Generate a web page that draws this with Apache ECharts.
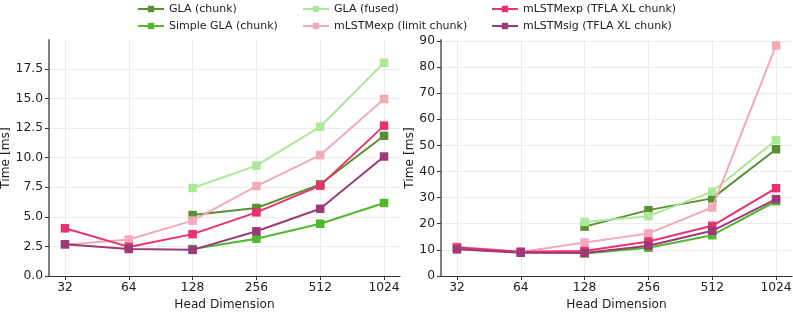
<!DOCTYPE html>
<html>
<head>
<meta charset="utf-8">
<script src="https://cdn.jsdelivr.net/npm/echarts@6/dist/echarts.min.js"></script>
<style>html,body{margin:0;padding:0;background:#fff;}#c{width:793px;height:312px;}</style>
</head>
<body>
<div id="c"></div>
<script>
// Data
const headDims = [32, 64, 128, 256, 512, 1024];
const seriesNames = ["GLA (chunk)", "Simple GLA (chunk)", "GLA (fused)", "mLSTMexp (limit chunk)", "mLSTMexp (TFLA XL chunk)", "mLSTMsig (TFLA XL chunk)"];
const colors = ["#5b8f32", "#4fb82f", "#abe89a", "#f2aab9", "#e8326b", "#9b3a77"];
// Left panel (ms)
const leftGLAChunk      = [null, null, 5.15, 5.75, 7.75, 11.85];
const leftSimpleGLA     = [null, null, 2.28, 3.15, 4.42, 6.17];
const leftGLAFused      = [null, null, 7.44, 9.33, 12.62, 18.03];
const leftLimitChunk    = [2.65, 3.08, 4.68, 7.6, 10.22, 14.96];
const leftTFLAexp       = [4.03, 2.46, 3.54, 5.38, 7.64, 12.71];
const leftTFLAsig       = [2.68, 2.28, 2.21, 3.78, 5.68, 10.1];
// Right panel (ms)
const rightGLAChunk     = [null, null, 18.9, 25.2, 29.7, 48.5];
const rightSimpleGLA    = [null, null, 8.6, 10.8, 15.6, 28.6];
const rightGLAFused     = [null, null, 20.7, 22.9, 32.3, 52.0];
const rightLimitChunk   = [11.2, 9.2, 12.8, 16.3, 26.2, 88.2];
const rightTFLAexp      = [10.9, 9.3, 9.6, 13.2, 19.2, 33.6];
const rightTFLAsig      = [10.2, 8.9, 8.8, 11.6, 17.3, 29.4];
const leftYTicks = [0, 2.5, 5, 7.5, 10, 12.5, 15, 17.5];
const rightYTicks = [0, 10, 20, 30, 40, 50, 60, 70, 80, 90];

const leftData = [leftGLAChunk, leftSimpleGLA, leftGLAFused, leftLimitChunk, leftTFLAexp, leftTFLAsig];
const rightData = [rightGLAChunk, rightSimpleGLA, rightGLAFused, rightLimitChunk, rightTFLAexp, rightTFLAsig];

const FONT = "DejaVu Sans";
const TICK_FS = 12.3;
const NAME_FS = 12.2;
const pad = Math.pow(2, 0.25);

function xAxisCfg(gi) {
  return {
    type: 'log', logBase: 2, gridIndex: gi,
    min: headDims[0] / pad, max: headDims[headDims.length - 1] * pad,
    name: 'Head Dimension', nameLocation: 'middle', nameGap: 23,
    nameTextStyle: {fontFamily: FONT, fontSize: NAME_FS, color: '#222'},
    axisLine: {lineStyle: {color: '#333', width: 1.2}},
    axisTick: {show: true, length: 4, lineStyle: {color: '#333'}},
    axisLabel: {fontFamily: FONT, fontSize: TICK_FS, color: '#222', margin: 6,
      showMinLabel: false, showMaxLabel: false,
      formatter: v => { const r = Math.round(v); return headDims.indexOf(r) >= 0 && Math.abs(v - r) < 0.01 ? String(r) : ''; }},
    splitLine: {show: true, showMinLine: false, showMaxLine: false, lineStyle: {color: '#ececec', width: 1}}
  };
}
function yAxisCfg(gi, max, interval, ticks, dec, gap) {
  return {
    type: 'value', gridIndex: gi, min: 0, max: max, interval: interval,
    name: 'Time [ms]', nameLocation: 'middle', nameGap: gap, nameRotate: 90,
    nameTextStyle: {fontFamily: FONT, fontSize: NAME_FS, color: '#222'},
    axisLine: {show: true, lineStyle: {color: '#808080', width: 2}},
    axisTick: {show: true, length: 4, lineStyle: {color: '#333'}},
    axisLabel: {fontFamily: FONT, fontSize: TICK_FS, color: '#222', margin: 6, showMaxLabel: false,
      formatter: v => ticks.some(t => Math.abs(t - v) < 1e-6) ? v.toFixed(dec) : ''},
    splitLine: {show: true, showMaxLine: false, lineStyle: {color: '#ececec', width: 1}}
  };
}

const series = [];
[leftData, rightData].forEach((set, gi) => {
  set.forEach((vals, i) => {
    series.push({
      type: 'line', name: seriesNames[i], xAxisIndex: gi, yAxisIndex: gi,
      data: headDims.map((d, k) => [d, vals[k]]),
      connectNulls: false,
      symbol: 'rect', symbolSize: 8.5,
      lineStyle: {width: 2, color: colors[i]},
      itemStyle: {color: colors[i]},
      emphasis: {disabled: true},
      z: 2 + i, animation: false
    });
  });
});

function legendCol(left, names) {
  return {
    orient: 'vertical', left: left, top: 2, padding: 0, data: names,
    itemWidth: 26, itemHeight: 8, itemGap: 3,
    textStyle: {fontFamily: FONT, fontSize: 11, color: '#222', lineHeight: 14},
    selectedMode: false
  };
}

const chart = echarts.init(document.getElementById('c'), null, {renderer: 'canvas'});
chart.setOption({
  backgroundColor: '#fff',
  animation: false,
  legend: [
    legendCol(137, [seriesNames[0], seriesNames[1]]),
    legendCol(302, [seriesNames[2], seriesNames[3]]),
    legendCol(491, [seriesNames[4], seriesNames[5]])
  ],
  grid: [
    {left: 49, right: 393, top: 40, bottom: 36, outerBoundsMode: 'none', containLabel: false},
    {left: 441, right: 1, top: 40, bottom: 36, outerBoundsMode: 'none', containLabel: false}
  ],
  xAxis: [xAxisCfg(0), xAxisCfg(1)],
  yAxis: [yAxisCfg(0, 19.95, 2.5, leftYTicks, 1, 30), yAxisCfg(1, 90.3, 10, rightYTicks, 0, 25)],
  series: series
});
</script>
</body>
</html>
